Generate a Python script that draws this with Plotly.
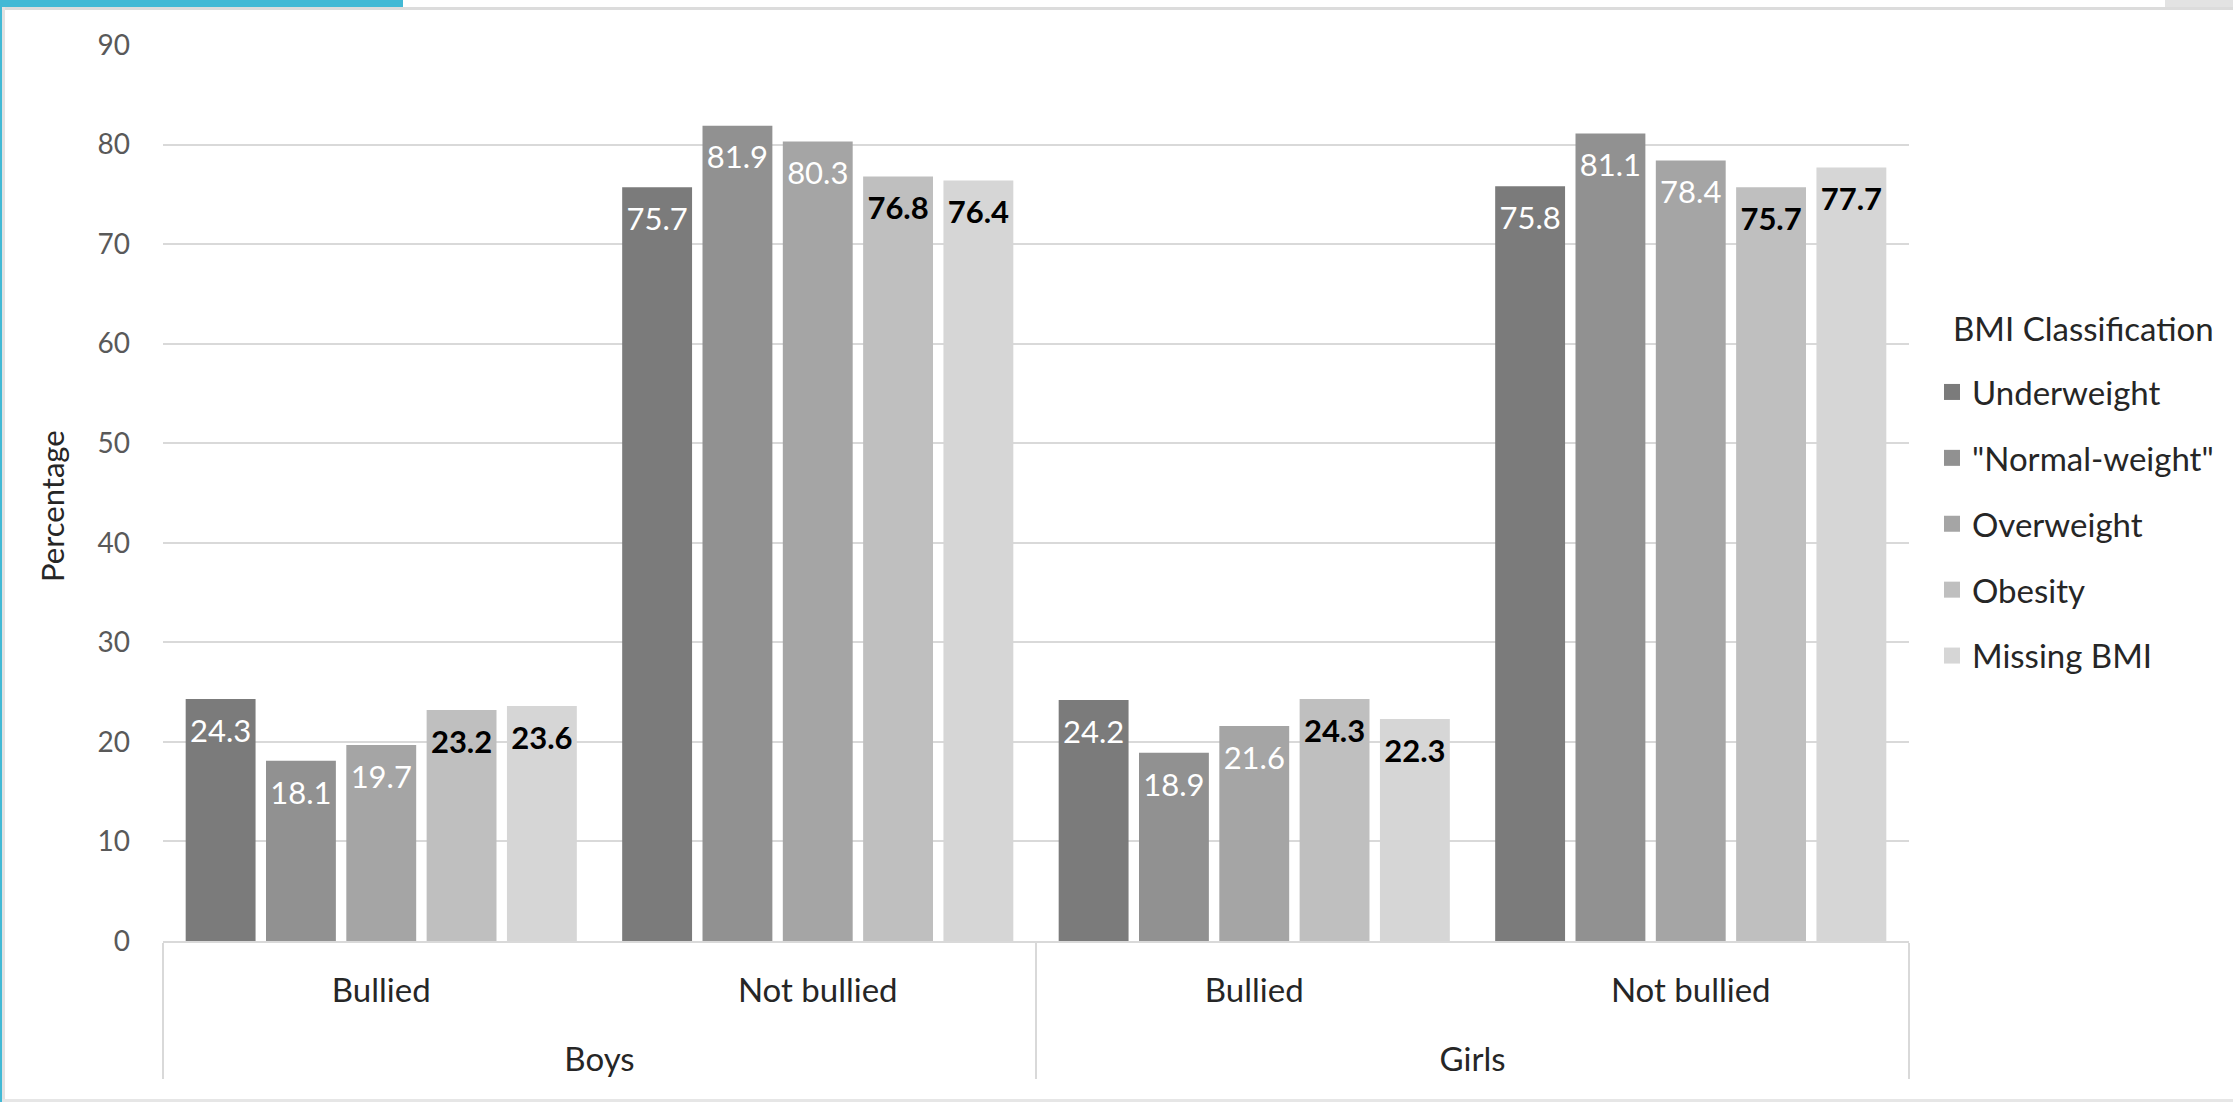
import plotly.graph_objects as go

W, H = 2233, 1102

# ---- data ----
gender = ["Boys", "Boys", "Girls", "Girls"]
bullying = ["Bullied", "Not bullied", "Bullied", "Not bullied"]
series_names = ["Underweight", '"Normal-weight"', "Overweight", "Obesity", "Missing BMI"]
underweight = [24.3, 75.7, 24.2, 75.8]
normal_weight = [18.1, 81.9, 18.9, 81.1]
overweight = [19.7, 80.3, 21.6, 78.4]
obesity = [23.2, 76.8, 24.3, 75.7]
missing_bmi = [23.6, 76.4, 22.3, 77.7]
y_ticks = [0, 10, 20, 30, 40, 50, 60, 70, 80, 90]

series_values = [underweight, normal_weight, overweight, obesity, missing_bmi]
colors = ["#7b7b7b", "#919191", "#a5a5a5", "#bfbfbf", "#d6d6d6"]
label_colors = ["#ffffff", "#ffffff", "#ffffff", "#000000", "#000000"]
label_bold = [False, False, False, True, True]

FONT = "Lato"

# plot area in pixels
L, R, T, B = 163, 1909, 45, 941


def px(xp):
    return (xp - L) / (R - L)


def py(yp):
    return (B - yp) / (B - T)


# inner category labels get an invisible extra line so the outer level sits lower (Excel-like spacing)
bullying_labels = [b + "<br><span style='font-size:47px'>\u00a0</span>" for b in bullying]

fig = go.Figure()

for name, vals, col, lcol, bold in zip(series_names, series_values, colors, label_colors, label_bold):
    texts = []
    for v in vals:
        t = f"{v:.1f}"
        if bold:
            t = f"<b>{t}</b>"
        texts.append("\u00a0<br><span style='font-size:31px'>" + t + "</span>")
    fig.add_trace(go.Bar(
        x=[gender, bullying_labels],
        y=vals,
        name=name,
        marker=dict(color=col, line=dict(width=0)),
        text=texts,
        textposition="inside",
        insidetextanchor="end",
        textangle=0,
        textfont=dict(family=FONT, size=17.5, color=lcol),
        showlegend=False,
        hoverinfo="skip",
    ))

# legend entries
for i, (name, col) in enumerate(zip(series_names, colors)):
    fig.add_trace(go.Scatter(
        x=[[gender[0]], [bullying_labels[0]]],
        y=[None],
        mode="markers",
        marker=dict(symbol="square", size=16, color=col),
        name=name,
        legendgroup=f"g{i}",
        showlegend=True,
        hoverinfo="skip",
    ))

shapes = []
# decorations (frame of the original screenshot)
shapes.append(dict(type="rect", xref="paper", yref="paper", x0=px(0), x1=px(W), y0=py(7), y1=py(10),
                   fillcolor="#dcdcdc", line=dict(width=0), layer="above"))
shapes.append(dict(type="rect", xref="paper", yref="paper", x0=px(0), x1=px(403), y0=py(0), y1=py(7),
                   fillcolor="#42b9d5", line=dict(width=0), layer="above"))
shapes.append(dict(type="rect", xref="paper", yref="paper", x0=px(2165), x1=px(W), y0=py(0), y1=py(7),
                   fillcolor="#e3e3e3", line=dict(width=0), layer="above"))
shapes.append(dict(type="rect", xref="paper", yref="paper", x0=px(2), x1=px(5), y0=py(7), y1=py(H),
                   fillcolor="#e2e2e2", line=dict(width=0), layer="above"))
shapes.append(dict(type="rect", xref="paper", yref="paper", x0=px(0), x1=px(2), y0=py(0), y1=py(H),
                   fillcolor="#42b9d5", line=dict(width=0), layer="above"))
shapes.append(dict(type="rect", xref="paper", yref="paper", x0=px(2), x1=px(W), y0=py(1099), y1=py(H),
                   fillcolor="#e6e6e6", line=dict(width=0), layer="above"))

annotations = [
    dict(text="Percentage", xref="paper", yref="paper", x=px(52), y=py(506),
         xanchor="center", yanchor="middle", textangle=-90, showarrow=False,
         font=dict(family=FONT, size=31, color="#262626")),
    dict(text="BMI Classification", xref="paper", yref="paper", x=px(1951), y=py(328),
         xanchor="left", yanchor="middle", showarrow=False,
         font=dict(family=FONT, size=33, color="#262626")),
]

fig.update_layout(
    width=W, height=H,
    margin=dict(l=L, r=W - R, t=T, b=H - B, pad=0),
    paper_bgcolor="white",
    plot_bgcolor="white",
    barmode="group",
    bargap=0.08,
    bargroupgap=0.13,
    font=dict(family=FONT, color="#262626"),
    shapes=shapes,
    annotations=annotations,
    legend=dict(
        font=dict(family=FONT, size=33, color="#262626"),
        xref="container", yref="container",
        x=1932 / W, y=1 - 364 / H,
        xanchor="left", yanchor="top",
        tracegroupgap=20,
        itemwidth=30,
        bgcolor="rgba(0,0,0,0)",
    ),
    xaxis=dict(
        showline=True, linecolor="#d9d9d9", linewidth=2,
        showgrid=False, zeroline=False,
        showdividers=True, dividercolor="#d9d9d9", dividerwidth=2,
        tickfont=dict(family=FONT, size=33, color="#262626"),
        ticks="",
        ticklabelstandoff=19,
    ),
    yaxis=dict(
        range=[0, 90],
        tickvals=y_ticks,
        showgrid=True, gridcolor="#d9d9d9", gridwidth=2,
        zeroline=False, showline=False,
        tickfont=dict(family=FONT, size=28, color="#595959"),
        ticks="",
        ticklabelstandoff=32,
    ),
)

fig.write_html("out.html")
